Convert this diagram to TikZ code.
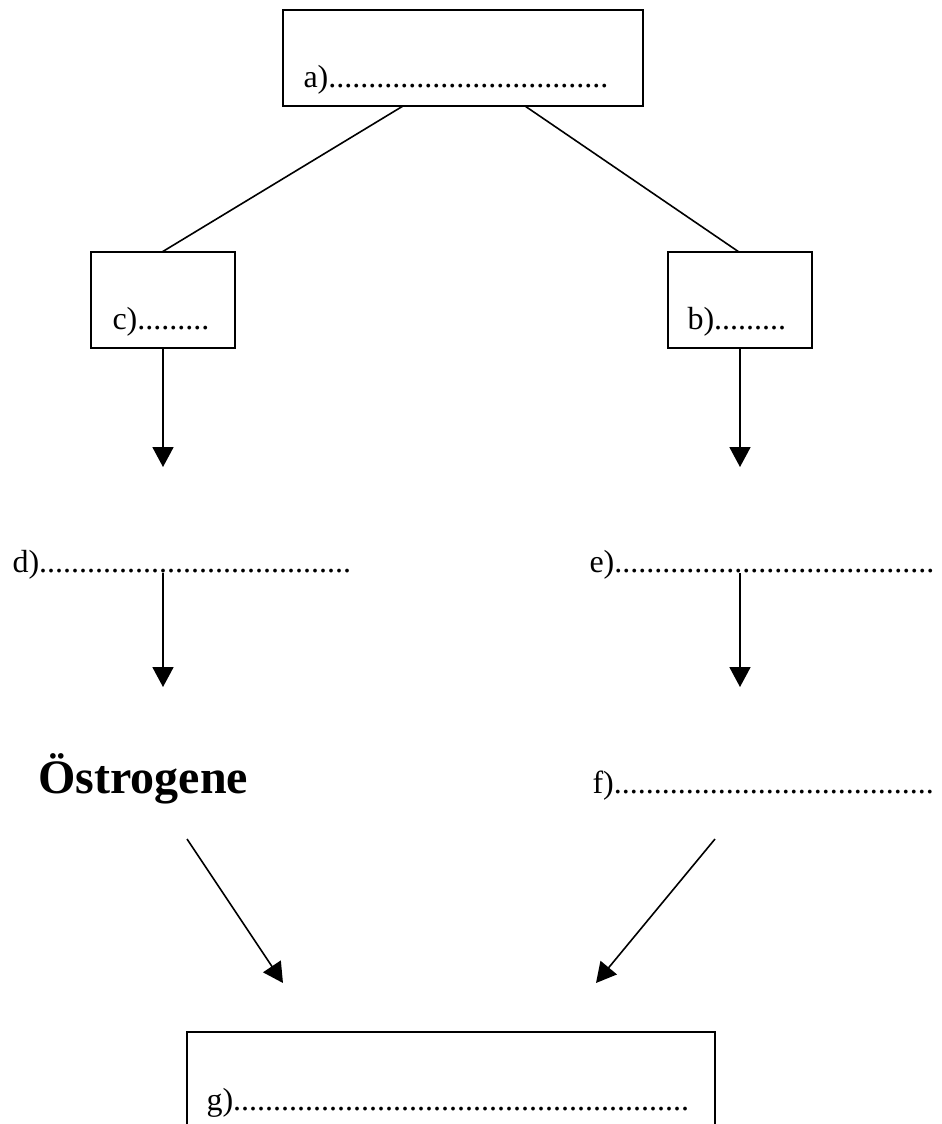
\documentclass[tikz,border=0pt]{standalone}
\usepackage{fontspec}
\setmainfont{Liberation Serif}
\usetikzlibrary{arrows.meta}
\tikzset{
  box/.style={draw, line width=0.6pt, inner sep=0pt},
  lbl/.style={anchor=base west, inner sep=0pt, font=\fontsize{12}{14}\selectfont},
  big/.style={anchor=base west, inner sep=0pt, font=\fontsize{18}{21}\selectfont\bfseries},
  conn/.style={line width=0.6pt},
  arr/.style={line width=0.6pt, -{Triangle[length=7.5pt, width=7.9pt]}}
}
\begin{document}
\begin{tikzpicture}[x=0.375pt, y=-0.375pt]
\useasboundingbox (0,0) rectangle (942,1124);
% boxes
\node[box, minimum width=135pt, minimum height=36pt] (boxa) at (463,58) {};
\node[box, minimum width=54pt, minimum height=36pt] (boxc) at (163,300) {};
\node[box, minimum width=54pt, minimum height=36pt] (boxb) at (740,300) {};
\node[box, minimum width=198pt, minimum height=42pt] (boxg) at (451,1088) {};
% texts
\node[lbl] (ta) at (303,87) {a)...................................};
\node[lbl] (tc) at (112,329) {c).........};
\node[lbl] (tb) at (687,329) {b).........};
\node[lbl] (td) at (12,572) {d).......................................};
\node[lbl] (te) at (589,572) {e)........................................};
\node[big] (tost) at (38,793) {Östrogene};
\node[lbl] (tf) at (592,793) {f)........................................};
\node[lbl] (tg) at (206,1110) {g).........................................................};
% coordinates
\coordinate (a1) at (403,106);
\coordinate (a2) at (525,106);
\coordinate (c1) at (162,252);
\coordinate (b1) at (739,252);
\coordinate (tipc) at (163,467);
\coordinate (tipb) at (740,467);
\coordinate (d1) at (163,573);
\coordinate (e1) at (740,573);
\coordinate (tipd) at (163,687);
\coordinate (tipe) at (740,687);
\coordinate (o1) at (187,839);
\coordinate (f1) at (715,839);
\coordinate (tipo) at (283,983);
\coordinate (tipf) at (596,983);
% connectors
\draw[conn] (a1) -- (c1);
\draw[conn] (a2) -- (b1);
\draw[arr] (boxc.south) -- (tipc);
\draw[arr] (boxb.south) -- (tipb);
\draw[arr] (d1) -- (tipd);
\draw[arr] (e1) -- (tipe);
\draw[arr] (o1) -- (tipo);
\draw[arr] (f1) -- (tipf);
\end{tikzpicture}
\end{document}
